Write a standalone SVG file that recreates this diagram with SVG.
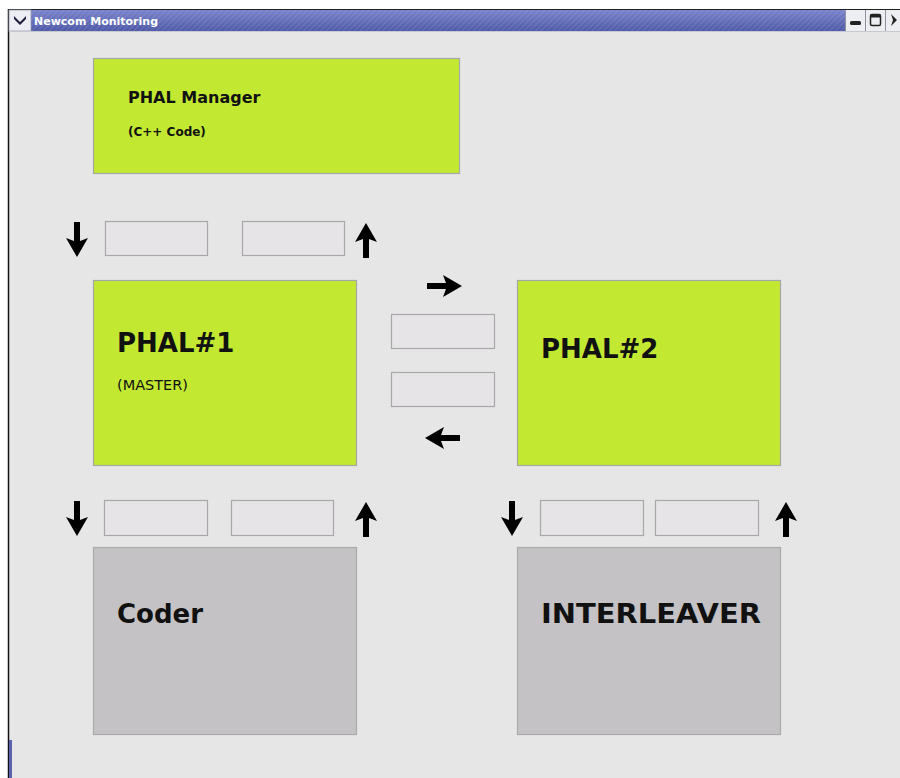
<svg xmlns="http://www.w3.org/2000/svg" width="900" height="778" viewBox="0 0 900 778">
  <defs>
    <style>
      .win { fill: #e6e6e6; }
      .green { fill: #c2e832; stroke: #a4a8a4; stroke-width: 1.2; }
      .grey { fill: #c4c2c4; stroke: #aaaaaa; stroke-width: 1.2; }
      .slot { fill: #e6e4e6; stroke: #a8a8a8; stroke-width: 1.2; }
      .t { font-family: "DejaVu Sans", "Liberation Sans", sans-serif; fill: #111; }
      .big { font-size: 26px; font-weight: bold; }
      .arrow { fill: #000; }
    </style>
    <linearGradient id="tb" x1="0" y1="0" x2="0" y2="1">
      <stop offset="0" stop-color="#7a84cc"/>
      <stop offset="1" stop-color="#4f5aa8"/>
    </linearGradient>
    <pattern id="hatch" width="4" height="4" patternUnits="userSpaceOnUse" patternTransform="rotate(45)">
      <rect width="4" height="4" fill="none"/>
      <line x1="0" y1="0" x2="0" y2="4" stroke="#ffffff" stroke-opacity="0.15" stroke-width="1.5"/>
    </pattern>
    <path id="arrowUp" class="arrow" d="M0,0 L11,19 L3,16 L3,35 L-3,35 L-3,16 L-11,19 Z"/>
  </defs>

  <!-- screen background -->
  <rect x="0" y="0" width="900" height="778" fill="#ffffff"/>
  <rect class="win" x="9" y="10" width="891" height="768"/>
  <line x1="8.5" y1="9" x2="8.5" y2="778" stroke="#111" stroke-width="1.5"/>
  <line x1="8" y1="9.5" x2="900" y2="9.5" stroke="#222" stroke-width="1"/>
  <rect x="9" y="740" width="3" height="38" fill="#5a62b0"/>

  <!-- title bar -->
  <g id="titlebar">
    <rect x="9" y="10" width="836" height="21" fill="url(#tb)"/>
    <rect x="9" y="10" width="836" height="21" fill="url(#hatch)"/>
    <rect x="9" y="10" width="22" height="21" fill="#eceef4" stroke="#9a9ab0" stroke-width="0.8"/>
    <path d="M14,16 L20,22 L26,16 L26,19 L20,25 L14,19 Z" fill="#222240"/>
    <text class="t" x="34" y="25" font-size="11" font-weight="bold" fill="#ffffff" style="fill:#ffffff">Newcom Monitoring</text>
    <rect x="845" y="10" width="55" height="21" fill="#eceef2"/>
    <line x1="845.5" y1="10" x2="845.5" y2="31" stroke="#9090a0"/>
    <line x1="865.5" y1="10" x2="865.5" y2="31" stroke="#9090a0"/>
    <line x1="885.5" y1="10" x2="885.5" y2="31" stroke="#9090a0"/>
    <rect x="850" y="21" width="11" height="4" rx="1.5" fill="#222"/>
    <rect x="870.5" y="14.5" width="10" height="11" rx="1.5" fill="none" stroke="#222" stroke-width="1.5"/>
    <rect x="870.5" y="14.5" width="10" height="3" fill="#222"/>
    <path d="M891,14 L897,20 L891,26 L893,20 Z" fill="#222"/>
    <line x1="9" y1="31.5" x2="900" y2="31.5" stroke="#c8c8d0"/>
  </g>

  <!-- nodes -->
  <g id="phal-manager">
    <rect class="green" x="93.5" y="58.5" width="366" height="115"/>
    <text class="t" x="128" y="103" font-size="16" font-weight="bold">PHAL Manager</text>
    <text class="t" x="128" y="136" font-size="12" font-weight="bold">(C++ Code)</text>
  </g>

  <g id="phal1">
    <rect class="green" x="93.5" y="280.5" width="263" height="185"/>
    <text class="t big" x="117" y="352">PHAL#1</text>
    <text class="t" x="117" y="390" font-size="13.5" textLength="71" lengthAdjust="spacingAndGlyphs">(MASTER)</text>
  </g>

  <g id="phal2">
    <rect class="green" x="517.5" y="280.5" width="263" height="185"/>
    <text class="t big" x="541" y="358">PHAL#2</text>
  </g>

  <g id="coder">
    <rect class="grey" x="93.5" y="547.5" width="263" height="187"/>
    <text class="t big" x="117" y="623">Coder</text>
  </g>

  <g id="interleaver">
    <rect class="grey" x="517.5" y="547.5" width="263" height="187"/>
    <text class="t big" x="541" y="623" textLength="220" lengthAdjust="spacingAndGlyphs">INTERLEAVER</text>
  </g>

  <g id="slots">
    <rect class="slot" x="105.5" y="221.5" width="102" height="34"/>
    <rect class="slot" x="242.5" y="221.5" width="102" height="34"/>
    <rect class="slot" x="391.5" y="314.5" width="103" height="34"/>
    <rect class="slot" x="391.5" y="372.5" width="103" height="34"/>
    <rect class="slot" x="104.5" y="500.5" width="103" height="35"/>
    <rect class="slot" x="231.5" y="500.5" width="102" height="35"/>
    <rect class="slot" x="540.5" y="500.5" width="103" height="35"/>
    <rect class="slot" x="655.5" y="500.5" width="103" height="35"/>
  </g>

  <!-- connectors -->
  <g id="connectors">
    <use href="#arrowUp" transform="translate(77,257) rotate(180)"/>
    <use href="#arrowUp" transform="translate(366,223)"/>
    <use href="#arrowUp" transform="translate(462,286) rotate(90)"/>
    <use href="#arrowUp" transform="translate(425,438) rotate(-90)"/>
    <use href="#arrowUp" transform="translate(77,536) rotate(180)"/>
    <use href="#arrowUp" transform="translate(366,502)"/>
    <use href="#arrowUp" transform="translate(512,536) rotate(180)"/>
    <use href="#arrowUp" transform="translate(786,502)"/>
  </g>
</svg>
